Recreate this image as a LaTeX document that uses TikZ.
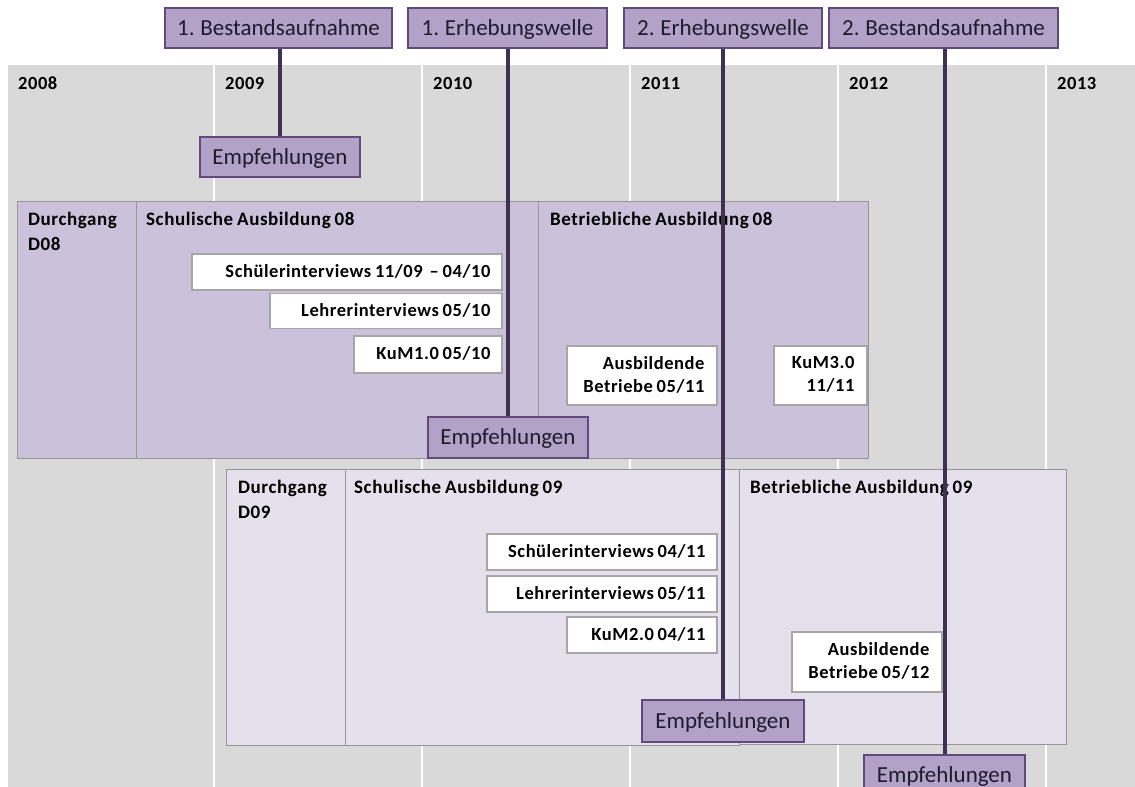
\documentclass[tikz,border=0pt]{standalone}
\usepackage{fontspec}
\setmainfont{Carlito}[WordSpace=0.8, BoldFeatures={LetterSpace=3.0}]
\definecolor{bggrey}{HTML}{D9D9D9}
\definecolor{dAfill}{HTML}{CCC1DA}
\definecolor{dBfill}{HTML}{E5E0EC}
\definecolor{colborder}{HTML}{969696}
\definecolor{wborder}{HTML}{A6A6A6}
\definecolor{hdrfill}{HTML}{B3A2C7}
\definecolor{hdrborder}{HTML}{604A7B}
\definecolor{vcol}{HTML}{403151}
\definecolor{textdark}{HTML}{1F1A2E}
\begin{document}
\begin{tikzpicture}[x=1pt,y=-1pt,
  hdr/.style={draw=hdrborder, line width=1.3pt, fill=hdrfill, minimum height=40pt, inner sep=0pt,
    text height=19pt, text depth=5pt,
    font=\fontsize{23}{27}\selectfont, text=textdark},
  colbox/.style={draw=colborder, line width=1.1pt, anchor=north west, inner sep=0pt},
  lbl/.style={font=\bfseries\fontsize{19}{24.5}\selectfont, text=black, inner sep=0pt, align=left},
  yearlbl/.style={font=\bfseries\fontsize{18.5}{22}\selectfont, text=black, inner sep=0pt, anchor=base west},
  wbox/.style={draw=wborder, line width=1.2pt, fill=white, inner sep=0pt},
  wtext/.style={font=\bfseries\fontsize{18.5}{23}\selectfont, text=black, inner sep=0pt, align=right, anchor=east},
  vline/.style={draw=vcol, line width=4pt}
]
\clip (0,0) rectangle (1135,787);
\useasboundingbox (0,0) rectangle (1135,787);
% background timeline
\fill[bggrey] (8,65) rectangle (1135,787);
\foreach \x in {214,422,630,838,1046} \fill[white] (\x-1,65) rectangle (\x+1,787);
\node[yearlbl] (y8) at (18,89) {2008};
\node[yearlbl] (y9) at (225,89) {2009};
\node[yearlbl] (y10) at (433,89) {2010};
\node[yearlbl] (y11) at (641,89) {2011};
\node[yearlbl] (y12) at (849,89) {2012};
\node[yearlbl] (y13) at (1057,89) {2013};

% Durchgang D08
\node[colbox, fill=dAfill, minimum width=119pt, minimum height=257pt] (dAa) at (17,201) {};
\node[colbox, fill=dAfill, minimum width=402pt, minimum height=257pt] (dAb) at (136,201) {};
\node[colbox, fill=dAfill, minimum width=330pt, minimum height=257pt] (dAc) at (538,201) {};
\node[lbl, anchor=north west] (dAal) at (28,212) {Durchgang\\D08};
\node[lbl, anchor=base west] (dAbl) at (146,225) {Schulische Ausbildung 08};
\node[lbl, anchor=base west] (dAcl) at (550,225) {Betriebliche Ausbildung 08};

\node[wbox, minimum width=310pt, minimum height=36pt] (s08) at (347,272) {};
\node[wtext, text height=13pt, text depth=3pt] (s08t) at ([xshift=-12pt]s08.east) {Schülerinterviews 11/09\hspace{7pt}– 04/10};
\node[wbox, minimum width=232pt, minimum height=35pt] (l08) at (386,311) {};
\node[wtext, text height=13pt, text depth=3pt] (l08t) at ([xshift=-12pt]l08.east) {Lehrerinterviews 05/10};
\node[wbox, minimum width=148pt, minimum height=37pt] (k1) at (428,354.5) {};
\node[wtext, text height=13pt, text depth=3pt] (k1t) at ([xshift=-12pt]k1.east) {KuM1.0 05/10};
\node[wbox, minimum width=150pt, minimum height=59pt] (ab11) at (642,375.5) {};
\node[wtext] (ab11t) at ([xshift=-13pt,yshift=1pt]ab11.east) {Ausbildende\\Betriebe 05/11};
\node[wbox, minimum width=93pt, minimum height=59pt] (k3) at (820.5,375.5) {};
\node[wtext] (k3t) at ([xshift=-13pt,yshift=1pt]k3.east) {KuM3.0\\11/11};

% Durchgang D09
\node[colbox, fill=dBfill, minimum width=119pt, minimum height=276pt] (dBa) at (226,469) {};
\node[colbox, fill=dBfill, minimum width=394pt, minimum height=276pt] (dBb) at (345,469) {};
\node[colbox, fill=dBfill, minimum width=327pt, minimum height=275pt] (dBc) at (739,469) {};
\node[lbl, anchor=north west] (dBal) at (238,480) {Durchgang\\D09};
\node[lbl, anchor=base west] (dBbl) at (354,493) {Schulische Ausbildung 09};
\node[lbl, anchor=base west] (dBcl) at (750,493) {Betriebliche Ausbildung 09};

\node[wbox, minimum width=230pt, minimum height=36pt] (s09) at (602,552) {};
\node[wtext, text height=13pt, text depth=3pt] (s09t) at ([xshift=-12pt]s09.east) {Schülerinterviews 04/11};
\node[wbox, minimum width=230pt, minimum height=36pt] (l09) at (602,594) {};
\node[wtext, text height=13pt, text depth=3pt] (l09t) at ([xshift=-12pt]l09.east) {Lehrerinterviews 05/11};
\node[wbox, minimum width=150pt, minimum height=36pt] (k2) at (642,635) {};
\node[wtext, text height=13pt, text depth=3pt] (k2t) at ([xshift=-12pt]k2.east) {KuM2.0 04/11};
\node[wbox, minimum width=150pt, minimum height=60pt] (ab12) at (867,662) {};
\node[wtext] (ab12t) at ([xshift=-13pt,yshift=1pt]ab12.east) {Ausbildende\\Betriebe 05/12};

% headers and recommendations
\node[hdr, minimum width=227pt] (h1) at (278.5,28) {1. Bestandsaufnahme};
\node[hdr, minimum width=199pt] (h2) at (507.5,28) {1. Erhebungswelle};
\node[hdr, minimum width=198pt] (h3) at (723,28) {2. Erhebungswelle};
\node[hdr, minimum width=229pt] (h4) at (943.5,28) {2. Bestandsaufnahme};

\node[hdr, minimum width=160pt] (e1) at (280,157) {Empfehlungen};
\node[hdr, minimum width=160pt, minimum height=41pt] (e2) at (508,437.5) {Empfehlungen};
\node[hdr, minimum width=162pt, minimum height=42pt] (e3) at (723,721) {Empfehlungen};
\node[hdr, minimum width=161pt, minimum height=41pt] (e4) at (944.5,775.5) {Empfehlungen};

% connectors from survey phase to recommendations
\draw[vline] (e1.north |- h1.south) -- (e1.north);
\draw[vline] (e2.north |- h2.south) -- (e2.north);
\draw[vline] (e3.north |- h3.south) -- (e3.north);
\draw[vline] (e4.north |- h4.south) -- (e4.north);
% redraw boxes over line ends
\node[hdr, minimum width=160pt] at (e1) {Empfehlungen};
\node[hdr, minimum width=160pt, minimum height=41pt] at (e2) {Empfehlungen};
\node[hdr, minimum width=162pt, minimum height=42pt] at (e3) {Empfehlungen};
\node[hdr, minimum width=161pt, minimum height=41pt] at (e4) {Empfehlungen};
\end{tikzpicture}
\end{document}
